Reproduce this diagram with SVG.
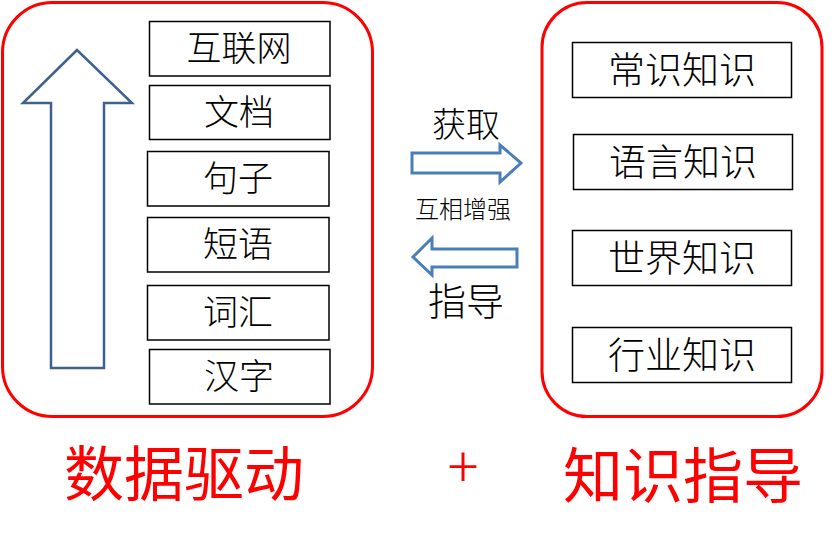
<svg xmlns="http://www.w3.org/2000/svg" width="836" height="546" viewBox="0 0 836 546">
<style>
.cont{fill:none;stroke:#ff0000;stroke-width:3}
.box{fill:#fff;stroke:#000;stroke-width:1.5}
.t{font-family:"Noto Sans CJK SC","Noto Sans",sans-serif;font-weight:300;fill:#000;text-anchor:middle}
.bt{font-size:35px}
.rt{font-size:37px}
.big{font-size:60px;fill:#ff0000;font-weight:400}
.arr{fill:#fff;stroke:#4a7ebb;stroke-width:3}
</style>
<rect width="836" height="546" fill="#fff"/>
<g id="data-group">
<rect class="cont" x="2.5" y="2.5" width="370" height="414" rx="50"/>
<path d="M77,50 L23,103 L51,103 L51,368 L104,368 L104,103 L132,103 Z" fill="#fff" stroke="#3f6190" stroke-width="2.5"/>
</g>
<g id="n-internet"><rect class="box" x="149.5" y="21.5" width="180.5" height="54.5"/><text class="t bt" x="239" y="61">互联网</text></g>
<g id="n-doc"><rect class="box" x="149.5" y="85.5" width="180.5" height="54"/><text class="t bt" x="239" y="125">文档</text></g>
<g id="n-sentence"><rect class="box" x="147.5" y="151.5" width="181.5" height="54.5"/><text class="t bt" x="238" y="191">句子</text></g>
<g id="n-phrase"><rect class="box" x="147.5" y="217.5" width="181.5" height="54.5"/><text class="t bt" x="238" y="257">短语</text></g>
<g id="n-vocab"><rect class="box" x="147.5" y="285.5" width="181.5" height="54.5"/><text class="t bt" x="238" y="325">词汇</text></g>
<g id="n-char"><rect class="box" x="149.5" y="349.5" width="180.5" height="54.5"/><text class="t bt" x="239" y="389">汉字</text></g>
<g id="knowledge-group">
<rect class="cont" x="542" y="2.5" width="280" height="414" rx="45"/>
</g>
<g id="n-common"><rect class="box" x="572.5" y="42.5" width="219" height="55"/><text class="t rt" x="682" y="84">常识知识</text></g>
<g id="n-lang"><rect class="box" x="573.5" y="134.5" width="219" height="55"/><text class="t rt" x="683" y="176">语言知识</text></g>
<g id="n-world"><rect class="box" x="572.5" y="230.5" width="219" height="55"/><text class="t rt" x="682" y="272">世界知识</text></g>
<g id="n-industry"><rect class="box" x="572.5" y="327.5" width="219" height="55"/><text class="t rt" x="682" y="369">行业知识</text></g>
<g id="connectors">
<path class="arr" d="M412,153 L500,153 L500,145 L521,163 L500,182 L500,173 L412,173 Z"/>
<path class="arr" d="M517,249 L432,249 L432,238 L413,257 L432,275 L432,267 L517,267 Z"/>
<text class="t" x="466" y="137" font-size="34">获取</text>
<text class="t" x="463" y="218" font-size="24">互相增强</text>
<text class="t" x="466" y="315" font-size="38">指导</text>
</g>
<g id="labels">
<text class="t big" x="184" y="496">数据驱动</text>
<text class="t" x="463" y="488" font-size="58" style="fill:#ff0000">+</text>
<text class="t big" x="683" y="498">知识指导</text>
</g>
</svg>
